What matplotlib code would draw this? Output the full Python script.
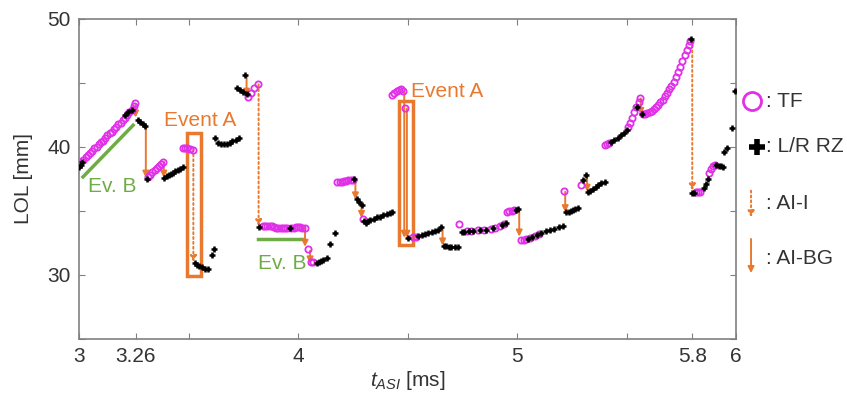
import matplotlib
matplotlib.use("Agg")
import matplotlib.pyplot as plt
from matplotlib.patches import Rectangle, FancyArrowPatch

plt.rcParams['font.family'] = ['Liberation Sans', 'DejaVu Sans']
plt.rcParams['mathtext.fontset'] = 'custom'
plt.rcParams['mathtext.it'] = 'Liberation Sans:italic'
plt.rcParams['mathtext.rm'] = 'Liberation Sans'

# TF points (magenta circles)
tf_x = [3.02, 3.03, 3.04, 3.05, 3.06, 3.07, 3.08, 3.09, 3.10, 3.11, 3.12, 3.13, 3.14,
        3.15, 3.16, 3.17, 3.18, 3.19, 3.20, 3.21, 3.22, 3.23, 3.24, 3.25, 3.255,
        3.315, 3.325, 3.335, 3.345, 3.355, 3.365, 3.375, 3.385,
        3.475, 3.485, 3.495, 3.505, 3.52,
        3.772, 3.785, 3.80, 3.815,
        3.84, 3.85, 3.86, 3.87, 3.88, 3.89, 3.90, 3.91, 3.92, 3.93, 3.94, 3.95, 3.97,
        3.98, 3.99, 4.00, 4.01, 4.02, 4.03,
        4.045, 4.06, 4.07,
        4.18, 4.19, 4.20, 4.21, 4.22, 4.23, 4.24, 4.25,
        4.295,
        4.43, 4.44, 4.45, 4.46, 4.47, 4.48, 4.49,
        4.525, 4.54, 4.735,
        4.77, 4.79, 4.82, 4.85, 4.88, 4.90, 4.92, 4.94,
        4.955, 4.965, 4.975, 4.985,
        5.02, 5.03, 5.04, 5.06, 5.08, 5.10,
        5.215, 5.29,
        5.40, 5.41, 5.42,
        5.507, 5.515, 5.525, 5.535, 5.545, 5.555, 5.562,
        5.575, 5.585, 5.595, 5.605, 5.615, 5.625, 5.635, 5.645, 5.655, 5.665, 5.675,
        5.685, 5.695, 5.705, 5.715, 5.725, 5.735, 5.745, 5.755, 5.765, 5.775, 5.785, 5.79,
        5.815, 5.825, 5.835,
        5.875, 5.885, 5.895, 5.905]
tf_y = [39.0, 39.2, 39.4, 39.5, 39.7, 39.9, 40.0, 40.2, 40.4, 40.5, 40.7, 40.9, 41.1,
        41.2, 41.4, 41.6, 41.8, 41.9, 42.1, 42.3, 42.5, 42.7, 42.9, 43.2, 43.4,
        37.65, 37.85, 38.05, 38.2, 38.35, 38.5, 38.65, 38.85,
        39.9, 39.95, 39.9, 39.85, 39.8,
        43.9, 44.2, 44.6, 44.9,
        33.8, 33.8, 33.85, 33.8, 33.8, 33.75, 33.7, 33.7, 33.7, 33.7, 33.65, 33.65, 33.7,
        33.7, 33.75, 33.75, 33.75, 33.7, 33.7,
        32.0, 31.0, 31.0,
        37.25, 37.3, 37.3, 37.35, 37.35, 37.4, 37.4, 37.4,
        34.35,
        44.1, 44.25, 44.35, 44.45, 44.55, 44.35, 43.05,
        32.95, 33.0, 34.0,
        33.4, 33.45, 33.5, 33.55, 33.6, 33.7, 33.8, 34.0,
        34.9, 35.0, 35.0, 35.05,
        32.7, 32.75, 32.8, 32.9, 33.05, 33.2,
        36.6, 37.0,
        40.15, 40.2, 40.3,
        41.6, 41.9, 42.3, 42.7, 43.1, 43.5, 43.8,
        42.6, 42.6, 42.65, 42.75, 42.85, 42.95, 43.1, 43.3, 43.5, 43.7, 43.95,
        44.2, 44.5, 44.8, 45.1, 45.45, 45.85, 46.25, 46.7, 47.15, 47.6, 48.0, 48.25,
        36.45, 36.5, 36.5,
        38.0, 38.3, 38.5, 38.6]

# L/R RZ points (black crosses)
rz_x = [3.00, 3.008, 3.015, 3.21, 3.225, 3.24,
        3.27, 3.28, 3.29, 3.30, 3.31,
        3.39, 3.40, 3.41, 3.42, 3.43, 3.44, 3.45, 3.46, 3.475,
        3.53, 3.54, 3.55, 3.56, 3.575, 3.59, 3.605, 3.615,
        3.62, 3.635, 3.65, 3.66, 3.675, 3.69, 3.70, 3.715, 3.73,
        3.72, 3.735, 3.75, 3.765, 3.758,
        3.82, 3.963,
        4.085, 4.095, 4.105, 4.115, 4.13, 4.145, 4.17,
        4.255, 4.27, 4.28, 4.29,
        4.30, 4.31, 4.32, 4.33, 4.345, 4.36, 4.375, 4.39, 4.405, 4.42, 4.43,
        4.50,
        4.55, 4.565, 4.58, 4.595, 4.61, 4.625, 4.64, 4.655,
        4.665, 4.675, 4.69, 4.70, 4.715, 4.73,
        4.75, 4.76, 4.78, 4.80, 4.83, 4.86, 4.89, 4.93, 4.95,
        4.995, 5.005,
        5.05, 5.07, 5.09, 5.11, 5.13, 5.15, 5.17, 5.19, 5.21,
        5.225, 5.235, 5.245, 5.255, 5.265, 5.28,
        5.30, 5.315,
        5.325, 5.335, 5.345, 5.36, 5.37, 5.385, 5.40,
        5.43, 5.445, 5.46, 5.475, 5.49, 5.50,
        5.548, 5.57, 5.795,
        5.80, 5.81, 5.855, 5.862, 5.87,
        5.91, 5.92, 5.93, 5.94,
        5.945, 5.96, 5.98, 5.995]
rz_y = [38.4, 38.6, 38.8, 42.5, 42.7, 42.9,
        42.1, 41.95, 41.8, 41.65, 37.5,
        37.6, 37.7, 37.8, 37.9, 38.0, 38.1, 38.2, 38.3, 38.4,
        30.95, 30.8, 30.7, 30.6, 30.5, 30.45, 31.6, 32.0,
        40.7, 40.3, 40.2, 40.2, 40.25, 40.35, 40.45, 40.55, 40.7,
        44.6, 44.45, 44.3, 44.15, 45.6,
        33.75, 33.7,
        30.95, 31.0, 31.1, 31.2, 31.3, 32.4, 33.3,
        37.5, 35.9, 35.7, 35.5,
        34.2, 34.1, 34.2, 34.3, 34.4, 34.5, 34.55, 34.65, 34.75, 34.85, 34.95,
        32.9,
        33.05, 33.1, 33.2, 33.3, 33.35, 33.45, 33.55, 33.75,
        32.3, 32.25, 32.2, 32.15, 32.2, 32.2,
        33.35, 33.35, 33.4, 33.45, 33.5, 33.55, 33.65, 33.9, 34.05,
        35.1, 35.15,
        32.85, 32.95, 33.1, 33.25, 33.4, 33.5, 33.6, 33.75, 33.8,
        34.9, 34.9, 35.0, 35.1, 35.15, 35.25,
        37.4, 37.8,
        36.5, 36.6, 36.7, 36.85, 37.0, 37.15, 37.25,
        40.4, 40.55, 40.7, 40.9, 41.1, 41.35,
        43.1, 42.6, 48.45,
        36.4, 36.4, 36.8, 37.1, 37.5,
        38.6, 38.55, 38.5, 38.45,
        39.6, 39.9, 41.5, 44.4]

# AI-BG (solid arrows) and AI-I (dotted arrows): x, start, end
ai_bg = [(3.258, 43.3, 42.3), (3.305, 41.7, 37.6), (3.387, 38.85, 37.6),
         (3.765, 45.5, 44.0), (4.032, 33.7, 32.2), (4.055, 31.9, 30.9),
         (4.262, 37.4, 35.9), (4.29, 35.5, 34.45), (4.485, 44.3, 32.9),
         (4.497, 43.0, 32.9), (4.66, 33.75, 32.3), (5.01, 35.1, 33.0),
         (5.22, 36.5, 34.9), (5.32, 37.8, 36.5), (5.565, 43.8, 42.5)]
ai_i = [(3.522, 39.8, 31.0), (3.82, 44.9, 33.8), (5.80, 48.3, 36.6)]

# Event A boxes (x0, y0, x1, y1) and Ev. B lines
event_a = [(3.492, 29.9, 3.556, 41.1), (4.461, 32.35, 4.527, 43.6)]
ev_b = [((3.018, 3.247), (37.66, 41.7)), ((3.817, 4.023), (32.8, 32.8))]

orange = '#E8792F'
green = '#6FAC46'
magenta = '#E030E8'
grey = '#808080'
dots = (0, (1, 1.5))

fig = plt.figure(figsize=(8.47, 3.93), dpi=100)
ax = fig.add_axes([0.0933, 0.1374, 0.7757, 0.8143])

# Ev. B lines
for xs, ys in ev_b:
    ax.plot(xs, ys, color=green, lw=2.5, zorder=2)

# Event A boxes
for x0, y0, x1, y1 in event_a:
    ax.add_patch(Rectangle((x0, y0), x1 - x0, y1 - y0, fill=False,
                           edgecolor=orange, lw=2.5, zorder=2))

# arrows
for x, y0, y1 in ai_bg:
    ax.annotate('', xy=(x, y1), xytext=(x, y0),
                arrowprops=dict(arrowstyle='-|>', color=orange, lw=1.4,
                                shrinkA=0, shrinkB=0, mutation_scale=9), zorder=3)
for x, y0, y1 in ai_i:
    ax.annotate('', xy=(x, y1), xytext=(x, y0),
                arrowprops=dict(arrowstyle='-|>', color=orange, lw=1.4, linestyle=dots,
                                shrinkA=0, shrinkB=0, mutation_scale=9), zorder=3)

ax.plot(tf_x, tf_y, 'o', ms=4.5, mfc='none', mec=magenta, mew=1.3, zorder=4)
ax.plot(rz_x, rz_y, '+', ms=5, color='black', mew=1.8, zorder=5)

# text labels
ax.text(3.552, 42.1, 'Event A', color=orange, fontsize=15, ha='center', va='center')
ax.text(4.68, 44.3, 'Event A', color=orange, fontsize=15, ha='center', va='center')
ax.text(3.15, 36.9, 'Ev. B', color=green, fontsize=15, ha='center', va='center')
ax.text(3.927, 30.9, 'Ev. B', color=green, fontsize=15, ha='center', va='center')

ax.set_xlim(3, 6)
ax.set_ylim(25, 50)
ax.set_xticks([3, 3.26, 3.5, 4, 4.5, 5, 5.5, 5.8, 6])
ax.set_xticklabels(['3', '3.26', '', '4', '', '5', '', '5.8', '6'])
ax.set_yticks([25, 30, 35, 40, 45, 50])
ax.set_yticklabels(['', '30', '', '40', '', '50'])
ax.tick_params(direction='in', length=4, color=grey, labelcolor='#333333',
               labelsize=15, top=True, right=True, pad=6)
for s in ax.spines.values():
    s.set_color(grey)
    s.set_linewidth(1.2)

ax.set_xlabel(r'$t_{ASI}$ [ms]', fontsize=15, color='#333333', labelpad=2)
ax.set_ylabel('LOL [mm]', fontsize=15, color='#333333', labelpad=10)

# legend on the right, drawn by hand
ft = fig.transFigure
fig.lines.append(plt.Line2D([0.8878], [0.743], marker='o', ms=13, mfc='none',
                            mec=magenta, mew=2, transform=ft))
fig.lines.append(plt.Line2D([0.8937], [0.626], marker='+', ms=11, color='black',
                            mew=4, transform=ft))
fig.add_artist(FancyArrowPatch((0.8867, 0.522), (0.8867, 0.440), transform=ft,
                               arrowstyle='-|>', color=orange, lw=1.4,
                               linestyle=dots, mutation_scale=9))
fig.add_artist(FancyArrowPatch((0.8867, 0.399), (0.8867, 0.298), transform=ft,
                               arrowstyle='-|>', color=orange, lw=1.4,
                               mutation_scale=9))
for y, s in [(0.743, ': TF'), (0.626, ': L/R RZ'), (0.481, ': AI-I'), (0.343, ': AI-BG')]:
    fig.text(0.904, y, s, fontsize=15, color='#333333', va='center')

fig.savefig('out.png', dpi=100)
